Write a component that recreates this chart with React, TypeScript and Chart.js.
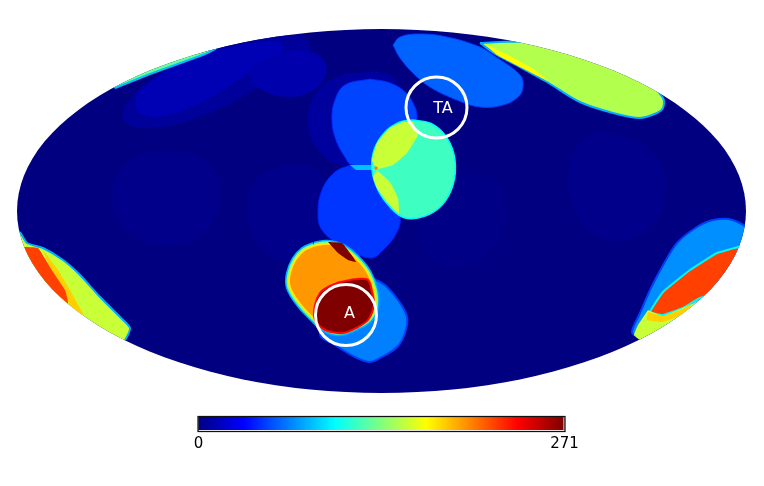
import React, { useEffect, useRef } from "react";
import { Chart, registerables } from "chart.js";

Chart.register(...registerables);

const FONT = "'DejaVu Sans', sans-serif";
const MAX_COUNT = 271;
const colorbarTicks = [0, 271];
const colorbarLevels = Array.from({ length: 256 }, (_, i) => (i * MAX_COUNT) / 255);

// Map frame, in the reference's map units
const mapCentre = { x: 381.5, y: 211 };
const mapRadius = { x: 364.5, y: 182 };

type Pt = [number, number];

const faintA: Pt[] = [[170, 150], [205, 160], [220, 195], [205, 232], [170, 245], [130, 232], [112, 195], [130, 160]];
const faintB: Pt[] = [[285, 165], [318, 170], [330, 210], [320, 250], [285, 262], [255, 240], [248, 205], [258, 178]];
const faintC: Pt[] = [[460, 170], [500, 185], [505, 225], [480, 260], [440, 265], [418, 235], [425, 195]];
const faintD: Pt[] = [[600, 130], [650, 150], [665, 195], [640, 235], [595, 235], [570, 195], [575, 150]];
const faintE: Pt[] = [[123, 107], [150, 80], [215, 48], [300, 35], [310, 50], [270, 80], [205, 115], [150, 128], [125, 122]];
const faintTop: Pt[] = [[137, 93], [167, 70], [217, 50], [280, 42], [280, 57], [250, 73], [200, 103], [157, 117], [137, 110]];
const faintLobe: Pt[] = [[347, 73], [390, 75], [400, 100], [380, 150], [345, 165], [318, 150], [308, 117], [320, 88]];
const faintTopRight: Pt[] = [[250, 65], [300, 50], [325, 62], [320, 85], [290, 97], [255, 85]];
const sliver: Pt[] = [[115, 88], [130, 82], [150, 74], [175, 65], [205, 54], [218, 47], [200, 36], [105, 70]];
const upperDisc: Pt[] = [[370, 79], [390, 83], [405, 92], [414, 105], [417, 117], [413, 132], [405, 150], [385, 165], [352, 165], [345, 157], [336, 140], [332, 120], [335, 100], [345, 85]];
const lowerDisc: Pt[] = [[350, 165], [375, 170], [390, 190], [400, 217], [397, 232], [385, 248], [370, 258], [337, 243], [322, 230], [318, 215], [322, 190], [335, 172]];
const cyanBridge: Pt[] = [[350, 165], [372, 165], [375, 170], [356, 170]];
const greenDisc: Pt[] = [[413, 120], [432, 124], [447, 138], [455, 160], [453, 185], [442, 205], [425, 216], [405, 218], [390, 207], [378, 190], [372, 170], [374, 150], [385, 132], [400, 122]];
const limePatchTop: Pt[] = [[413, 122], [418, 135], [407, 153], [393, 165], [377, 169], [372, 160], [377, 143], [390, 128], [403, 122]];
const limePatchLow: Pt[] = [[377, 170], [390, 182], [398, 198], [399, 214], [387, 202], [377, 188], [373, 177]];
const hotSpeck: Pt[] = [[376, 166], [378, 168], [376, 170], [374, 168]];
const topOval: Pt[] = [[393, 45], [400, 37], [420, 34], [447, 37], [480, 47], [493, 55], [520, 75], [523, 87], [518, 97], [503, 105], [480, 107], [457, 100], [430, 87], [413, 73], [400, 58]];
const limeOval: Pt[] = [[480, 43], [500, 42], [530, 42], [590, 50], [640, 75], [663, 98], [663, 108], [657, 113], [640, 118], [613, 113], [580, 102], [547, 82], [520, 67], [497, 55]];
const limeEdge: Pt[] = [[485, 44], [510, 56], [535, 70], [548, 81], [520, 67], [497, 55]];
const paleDisc: Pt[] = [[377, 280], [387, 287], [398, 300], [407, 317], [405, 333], [397, 347], [380, 358], [370, 362], [357, 358], [335, 345], [320, 333], [340, 300]];
const orangeDisc: Pt[] = [[314.2, 245.7], [327.4, 243.8], [342.4, 247.6], [356.5, 258.9], [367.8, 273], [374.4, 290.1], [375.3, 305.9], [369.7, 318.1], [358.4, 325.6], [339.6, 332.2], [323.6, 327.5], [313.3, 318.1], [300.1, 304], [289.8, 287.1], [289.8, 273.9], [295.4, 259.8], [303.9, 250.4]];
const crimsonSliver: Pt[] = [[328, 242], [342, 243], [353, 257], [356, 262], [348, 260], [338, 253]];
const crimsonCore: Pt[] = [[340, 282], [357, 279], [368, 280], [372, 292], [374, 305], [368, 320], [358, 327], [343, 333], [325, 330], [315, 320], [315, 305], [320, 293], [328, 287]];
const rightOuter: Pt[] = [[760, 235], [733, 220], [713, 220], [697, 227], [677, 243], [662, 267], [650, 290], [640, 313], [632, 332], [640, 338], [680, 350], [760, 280]];
const rightRed: Pt[] = [[745, 245], [717, 253], [690, 270], [663, 292], [650, 312], [663, 315], [683, 308], [700, 298], [735, 285], [760, 250]];
const rightLime: Pt[] = [[648, 310], [638, 325], [634, 335], [640, 340], [660, 345], [700, 325], [710, 295], [692, 304], [663, 316]];
const rightAmber: Pt[] = [[648, 312], [663, 316], [683, 309], [692, 304], [684, 314], [663, 322], [647, 320]];
const leftOuter: Pt[] = [[20, 232], [27, 243], [43, 248], [63, 260], [80, 275], [100, 297], [120, 317], [130, 328], [123, 342], [90, 340], [20, 285], [5, 240]];
const leftAmber: Pt[] = [[43, 250], [58, 270], [70, 290], [77, 303], [84, 316], [66, 312], [60, 290], [50, 268]];
const leftRed: Pt[] = [[22, 247], [38, 248], [53, 272], [65, 290], [68, 303], [50, 295], [25, 270]];

const regionOutlines: Pt[][] = [
  faintA, faintB, faintC, faintD, faintE, faintTop, faintTopRight, faintLobe, sliver,
  upperDisc, lowerDisc, cyanBridge, greenDisc, limePatchTop, limePatchLow, hotSpeck,
  topOval, limeOval, limeEdge, paleDisc, orangeDisc, orangeDisc, orangeDisc, crimsonSliver, crimsonCore,
  rightOuter, rightRed, rightLime, rightAmber, leftOuter, leftAmber, leftRed,
];
const regionCounts = [
  3, 3, 2, 3, 7, 14, 12, 8, 130,
  52, 48, 85, 118, 155, 155, 205,
  60, 149, 170, 68, 197, 197, 197, 271, 271,
  72, 220, 155, 182, 155, 182, 220,
];
const regionRimCounts = [
  3, 3, 2, 3, 7, 14, 12, 8, 85,
  45, 42, 85, 100, 120, 155, 205,
  50, 80, 170, 50, 80, 130, 175, 240, 235,
  50, 100, 155, 182, 80, 182, 220,
];
const regionRimWidths = [
  0, 0, 0, 0, 0, 0, 0, 0, 2,
  1, 1, 0, 1.5, 0, 0, 0,
  1, 2, 0, 2, 8, 5, 2, 0, 2,
  2, 2, 0, 0, 2, 0, 0,
];
const regionCurves = [
  0.4, 0.4, 0.4, 0.4, 0.4, 0.4, 0.4, 0.4, 0.1,
  0.4, 0.4, 0, 0.4, 0.1, 0.1, 0,
  0.4, 0.3, 0.1, 0.4, 0.4, 0.4, 0.4, 0.1, 0.3,
  0.3, 0.1, 0.1, 0.1, 0.2, 0.1, 0.1,
];

// Marked targets: centre, label and label anchor
const markerCentres: Pt[] = [[346, 315], [436.5, 107.5]];
const markerNames = ["A", "TA"];
const markerLabelAnchors: Pt[] = [[349.5, 314], [443, 109]];

function jet(count: number): string {
  const t = Math.max(0, Math.min(1, count / MAX_COUNT));
  const c = (v: number) => Math.round(255 * Math.max(0, Math.min(1, v)));
  return `rgb(${c(Math.min(4 * t - 1.5, -4 * t + 4.5))},${c(Math.min(4 * t - 0.5, -4 * t + 3.5))},${c(Math.min(4 * t + 0.5, -4 * t + 2.5))})`;
}

const mapPlugin = {
  id: "mollweideFrame",
  beforeDatasetsDraw(chart: any) {
    const { ctx, scales } = chart;
    const cx = scales.x.getPixelForValue(mapCentre.x);
    const cy = scales.y.getPixelForValue(mapCentre.y);
    const rx = Math.abs(scales.x.getPixelForValue(mapCentre.x + mapRadius.x) - cx);
    const ry = Math.abs(scales.y.getPixelForValue(mapCentre.y + mapRadius.y) - cy);
    ctx.save();
    ctx.beginPath();
    ctx.ellipse(cx, cy, rx, ry, 0, 0, Math.PI * 2);
    ctx.clip();
    ctx.fillStyle = jet(0);
    ctx.fillRect(0, 0, chart.width, chart.height);
  },
  afterDatasetsDraw(chart: any) {
    const { ctx, scales } = chart;
    ctx.restore();
    ctx.save();
    ctx.fillStyle = "#ffffff";
    ctx.font = `16px ${FONT}`;
    ctx.textAlign = "center";
    ctx.textBaseline = "middle";
    markerNames.forEach((name, i) => {
      const [x, y] = markerLabelAnchors[i];
      ctx.fillText(name, scales.x.getPixelForValue(x), scales.y.getPixelForValue(y));
    });
    ctx.restore();
  },
};

const barFramePlugin = {
  id: "barFrame",
  afterDatasetsDraw(chart: any) {
    const { ctx, chartArea: a } = chart;
    ctx.save();
    ctx.fillStyle = "#ffffff";
    ctx.fillRect(a.left, a.bottom - 1, a.width, 1);
    ctx.fillRect(a.right - 1, a.top, 1, a.height);
    ctx.strokeStyle = "#111111";
    ctx.lineWidth = 1.25;
    ctx.strokeRect(a.left - 0.5, a.top - 0.5, a.width + 1, a.height + 1);
    ctx.restore();
  },
};

export default function App() {
  const mapRef = useRef<HTMLCanvasElement>(null);
  const barRef = useRef<HTMLCanvasElement>(null);

  useEffect(() => {
    const regionSets = regionOutlines.map((outline, i) => ({
      data: [...outline, outline[0]].map(([x, y]) => ({ x, y })),
      showLine: true,
      fill: "shape",
      tension: regionCurves[i],
      pointRadius: 0,
      backgroundColor: jet(regionCounts[i]),
      borderColor: jet(regionRimCounts[i]),
      borderWidth: regionRimWidths[i],
    }));
    const markerSet = {
      data: markerCentres.map(([x, y]) => ({ x, y })),
      showLine: false,
      pointStyle: "circle",
      pointRadius: 30.5,
      pointBorderWidth: 3,
      pointBorderColor: "#ffffff",
      pointBackgroundColor: "rgba(0,0,0,0)",
      clip: false,
    };
    const map = new Chart(mapRef.current!, {
      type: "scatter",
      data: { datasets: [markerSet, ...regionSets.reverse()] as any },
      options: {
        animation: false,
        responsive: false,
        layout: { padding: 0, autoPadding: false },
        plugins: { legend: { display: false }, tooltip: { enabled: false }, title: { display: false } },
        scales: {
          x: { type: "linear", min: 0, max: 764, display: false },
          y: { type: "linear", min: 0, max: 486, reverse: true, display: false },
        },
      },
      plugins: [mapPlugin],
    } as any);

    const bar = new Chart(barRef.current!, {
      type: "bar",
      data: {
        datasets: [
          {
            data: colorbarLevels.map((x) => ({ x, y: 1 })),
            backgroundColor: colorbarLevels.map(jet),
            barThickness: 2.4,
            borderWidth: 0,
          },
        ],
      } as any,
      options: {
        animation: false,
        responsive: false,
        layout: { padding: { left: 18.5, right: 25.5, top: 7, bottom: 0 }, autoPadding: false },
        plugins: { legend: { display: false }, tooltip: { enabled: false } },
        scales: {
          x: {
            type: "linear",
            offset: false,
            min: colorbarTicks[0],
            max: colorbarTicks[1],
            grid: { display: false, drawTicks: false },
            border: { display: false },
            afterBuildTicks: (s: any) => {
              s.ticks = colorbarTicks.map((value) => ({ value }));
            },
            afterFit: (s: any) => {
              s.height = 24;
            },
            ticks: {
              color: "#000000",
              font: { family: FONT, size: 15 },
              padding: 4,
              maxRotation: 0,
              autoSkip: false,
            },
          },
          y: { min: 0, max: 1, display: false },
        },
      },
      plugins: [barFramePlugin],
    } as any);

    return () => {
      map.destroy();
      bar.destroy();
    };
  }, []);

  return (
    <div style={{ position: "absolute", left: 0, top: 0, width: 764, height: 486, background: "#fff" }}>
      <canvas ref={mapRef} width={764} height={486} style={{ position: "absolute", left: 0, top: 0 }} />
      <canvas ref={barRef} width={410} height={45} style={{ position: "absolute", left: 180, top: 410 }} />
    </div>
  );
}
